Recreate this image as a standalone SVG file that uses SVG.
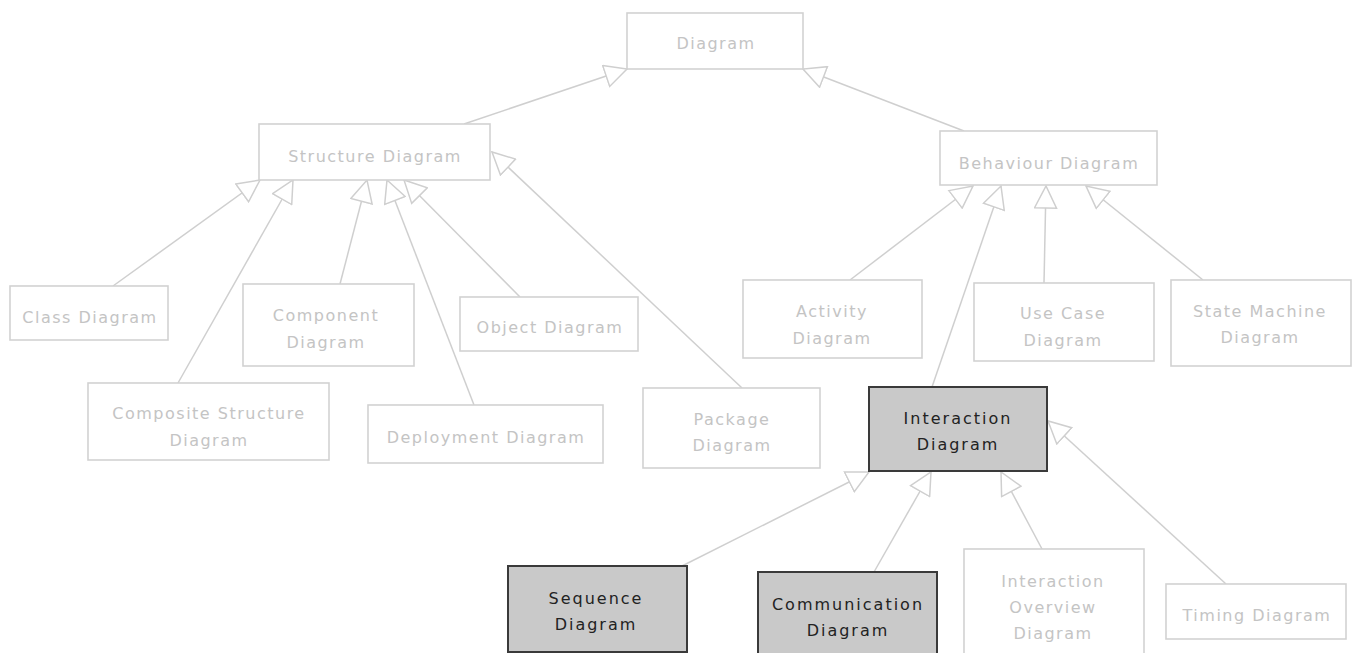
<svg xmlns="http://www.w3.org/2000/svg" width="1354" height="653" viewBox="0 0 1354 653">
<style>
.box{fill:#fff;stroke:#d2d2d2;stroke-width:1.6}
.hi{fill:#c9c9c9;stroke:#3a3a3a;stroke-width:2}
.t{font-family:"DejaVu Sans",sans-serif;font-size:16px;letter-spacing:1.5px;fill:#c4c4c4;text-anchor:middle}
.th{font-family:"DejaVu Sans",sans-serif;font-size:16px;letter-spacing:2px;fill:#222;text-anchor:middle}
.c line{stroke:#cfcfcf;stroke-width:1.5;marker-end:url(#tri)}
</style>
<defs>
<marker id="tri" viewBox="0 0 24 24" refX="23" refY="12" markerWidth="24" markerHeight="24" markerUnits="userSpaceOnUse" orient="auto">
<path d="M1,1 L23,12 L1,23 Z" fill="#fff" stroke="#cfcfcf" stroke-width="1.5"/>
</marker>
</defs>
<rect width="1354" height="653" fill="#fff"/>
<g id="connectors" class="c">
<line x1="464" y1="124" x2="627" y2="69"/>
<line x1="964" y1="131" x2="803" y2="69"/>
<line x1="113" y1="286" x2="260" y2="180"/>
<line x1="178" y1="383" x2="293" y2="180"/>
<line x1="340" y1="284" x2="367" y2="180"/>
<line x1="474" y1="405" x2="387" y2="180"/>
<line x1="520" y1="297" x2="404" y2="180"/>
<line x1="742" y1="388" x2="492" y2="152"/>
<line x1="850" y1="280" x2="973" y2="186"/>
<line x1="932" y1="387" x2="1001" y2="186"/>
<line x1="1044" y1="283" x2="1046" y2="186"/>
<line x1="1203" y1="280" x2="1086" y2="186"/>
<line x1="682" y1="566" x2="869" y2="472"/>
<line x1="874" y1="572" x2="931" y2="472"/>
<line x1="1042" y1="549" x2="1001" y2="472"/>
<line x1="1226" y1="584" x2="1048" y2="421"/>
</g>
<g id="diagram"><rect class="box" x="627" y="13" width="176" height="56"/><text class="t" x="716" y="49">Diagram</text></g>
<g id="structure"><rect class="box" x="259" y="124" width="231" height="56"/><text class="t" x="375" y="162">Structure Diagram</text></g>
<g id="behaviour"><rect class="box" x="940" y="131" width="217" height="54"/><text class="t" x="1049" y="169">Behaviour Diagram</text></g>
<g id="class"><rect class="box" x="10" y="286" width="158" height="54"/><text class="t" x="90" y="323">Class Diagram</text></g>
<g id="component"><rect class="box" x="243" y="284" width="171" height="82"/><text class="t" x="326" y="321">Component</text><text class="t" x="326" y="348">Diagram</text></g>
<g id="object"><rect class="box" x="460" y="297" width="178" height="54"/><text class="t" x="550" y="333">Object Diagram</text></g>
<g id="composite"><rect class="box" x="88" y="383" width="241" height="77"/><text class="t" x="209" y="419">Composite Structure</text><text class="t" x="209" y="446">Diagram</text></g>
<g id="deployment"><rect class="box" x="368" y="405" width="235" height="58"/><text class="t" x="486" y="443">Deployment Diagram</text></g>
<g id="package"><rect class="box" x="643" y="388" width="177" height="80"/><text class="t" x="732" y="425">Package</text><text class="t" x="732" y="451">Diagram</text></g>
<g id="activity"><rect class="box" x="743" y="280" width="179" height="78"/><text class="t" x="832" y="317">Activity</text><text class="t" x="832" y="344">Diagram</text></g>
<g id="usecase"><rect class="box" x="974" y="283" width="180" height="78"/><text class="t" x="1063" y="319">Use Case</text><text class="t" x="1063" y="346">Diagram</text></g>
<g id="statemachine"><rect class="box" x="1171" y="280" width="180" height="86"/><text class="t" x="1260" y="317">State Machine</text><text class="t" x="1260" y="343">Diagram</text></g>
<g id="interaction"><rect class="hi" x="869" y="387" width="178" height="84"/><text class="th" x="958" y="424">Interaction</text><text class="th" x="958" y="450">Diagram</text></g>
<g id="sequence"><rect class="hi" x="508" y="566" width="179" height="86"/><text class="th" x="596" y="604">Sequence</text><text class="th" x="596" y="630">Diagram</text></g>
<g id="communication"><rect class="hi" x="758" y="572" width="179" height="84"/><text class="th" x="848" y="610">Communication</text><text class="th" x="848" y="636">Diagram</text></g>
<g id="overview"><rect class="box" x="964" y="549" width="180" height="108"/><text class="t" x="1053" y="587">Interaction</text><text class="t" x="1053" y="613">Overview</text><text class="t" x="1053" y="639">Diagram</text></g>
<g id="timing"><rect class="box" x="1166" y="584" width="180" height="55"/><text class="t" x="1257" y="621">Timing Diagram</text></g>
</svg>
